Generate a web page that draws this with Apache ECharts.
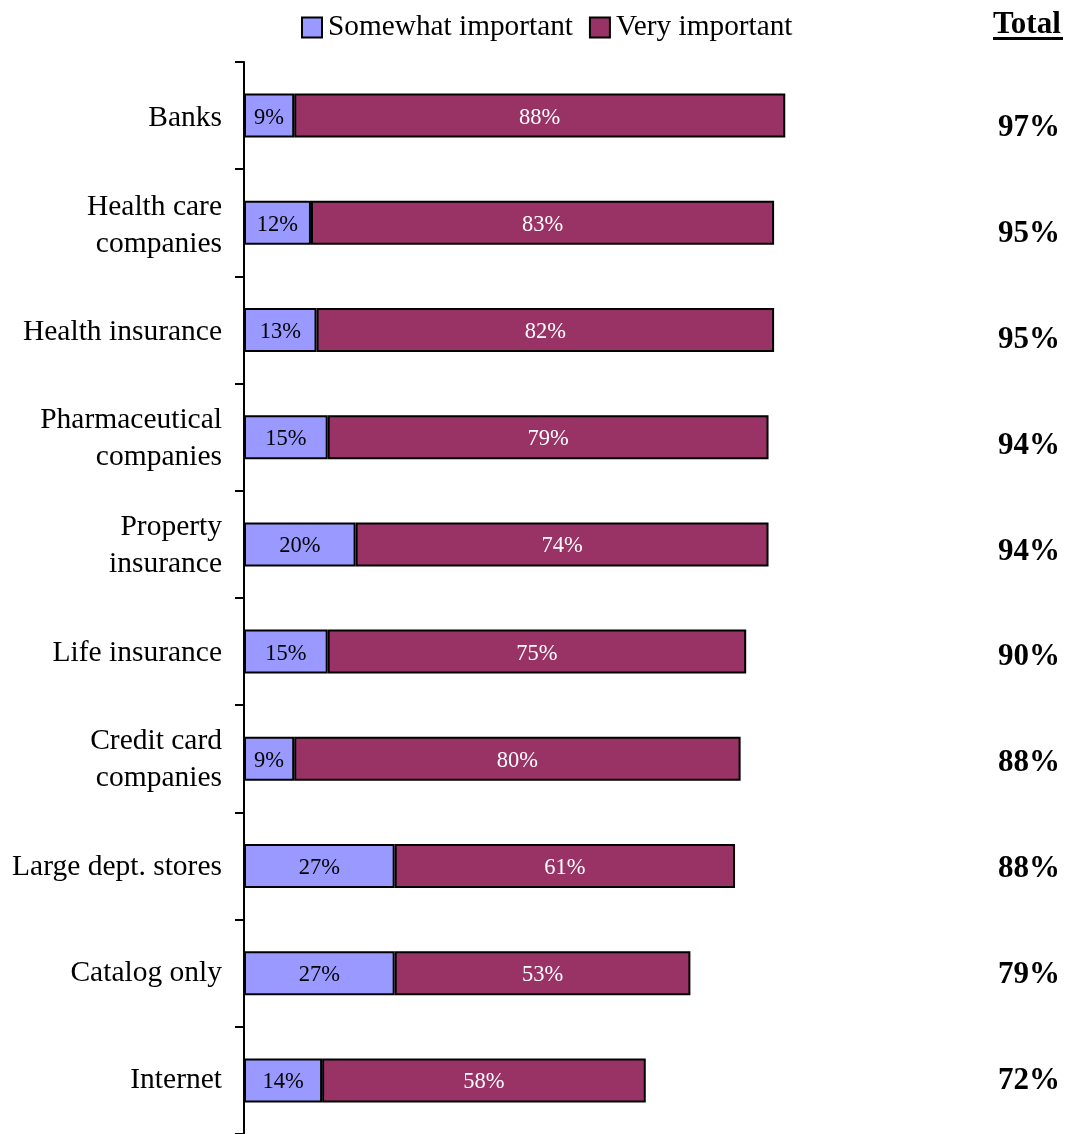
<!DOCTYPE html>
<html>
<head>
<meta charset="utf-8">
<script src="https://cdn.jsdelivr.net/npm/echarts@6/dist/echarts.min.js"></script>
<style>html,body{margin:0;padding:0;background:#fff;}#c{width:1070px;height:1134px;}</style>
</head>
<body>
<div id="c"></div>
<script>
const categories = ['Banks', 'Health care\ncompanies', 'Health insurance', 'Pharmaceutical\ncompanies', 'Property\ninsurance', 'Life insurance', 'Credit card\ncompanies', 'Large dept. stores', 'Catalog only', 'Internet'];
const somewhat = [9, 12, 13, 15, 20, 15, 9, 27, 27, 14];
const very = [88, 83, 82, 79, 74, 75, 80, 61, 53, 58];
const totals = ['97%', '95%', '95%', '94%', '94%', '90%', '88%', '88%', '79%', '72%'];
const seriesNames = ['Somewhat important', 'Very important'];

const FONT = '"Liberation Serif", "Times New Roman", serif';
const chart = echarts.init(document.getElementById('c'));
const hiddenX = i => ({ type: 'value', min: 0, max: 100, show: false, gridIndex: i });
chart.setOption({
  animation: false,
  textStyle: { fontFamily: FONT },
  legend: {
    left: 296, top: 8,
    itemWidth: 20, itemHeight: 20, itemGap: 16,
    icon: 'rect',
    textStyle: { fontFamily: FONT, fontSize: 29.3, color: '#000', padding: [0, 0, 0, 1] },
    data: seriesNames
  },
  grid: [
    { left: 244, right: 268, top: 62, bottom: 0 },
    { left: 244, right: 268, top: 65, bottom: -3 },
    { left: 244, right: 268, top: 75, bottom: -13 }
  ],
  xAxis: [hiddenX(0), hiddenX(1), hiddenX(2)],
  yAxis: [{
    gridIndex: 0, type: 'category', inverse: true, data: categories,
    axisLine: { show: true, lineStyle: { color: '#000', width: 2 } },
    axisTick: { show: true, length: 9, lineStyle: { color: '#000', width: 2 } },
    axisLabel: { show: false }
  }, {
    gridIndex: 1, type: 'category', inverse: true, data: categories,
    axisLine: { show: false }, axisTick: { show: false },
    axisLabel: { fontFamily: FONT, fontSize: 29.5, color: '#000', margin: 22, lineHeight: 37, align: 'right' }
  }, {
    gridIndex: 2, type: 'category', inverse: true, data: totals, position: 'right', offset: 188,
    axisLine: { show: false }, axisTick: { show: false },
    axisLabel: { fontFamily: FONT, fontSize: 31, fontWeight: 'bold', color: '#000', margin: 8 }
  }],
  series: [{
    name: seriesNames[0], type: 'bar', stack: 's', data: somewhat, barWidth: 44,
    itemStyle: { color: '#9999FF', borderColor: '#000', borderWidth: 2 },
    label: { show: true, position: 'inside', offset: [0, 2], formatter: '{c}%', fontFamily: FONT, fontSize: 22.5, color: '#000' }
  }, {
    name: seriesNames[1], type: 'bar', stack: 's', data: very, barWidth: 44,
    itemStyle: { color: '#993366', borderColor: '#000', borderWidth: 2 },
    label: { show: true, position: 'inside', offset: [0, 2], formatter: '{c}%', fontFamily: FONT, fontSize: 22.5, color: '#fff' }
  }],
  graphic: [
    { type: 'text', left: 993, top: 9, style: { text: 'Total', font: 'bold 31px ' + FONT, fill: '#000' } },
    { type: 'rect', left: 993, top: 37, shape: { width: 70, height: 3 }, style: { fill: '#000' } }
  ]
});
</script>
</body>
</html>
